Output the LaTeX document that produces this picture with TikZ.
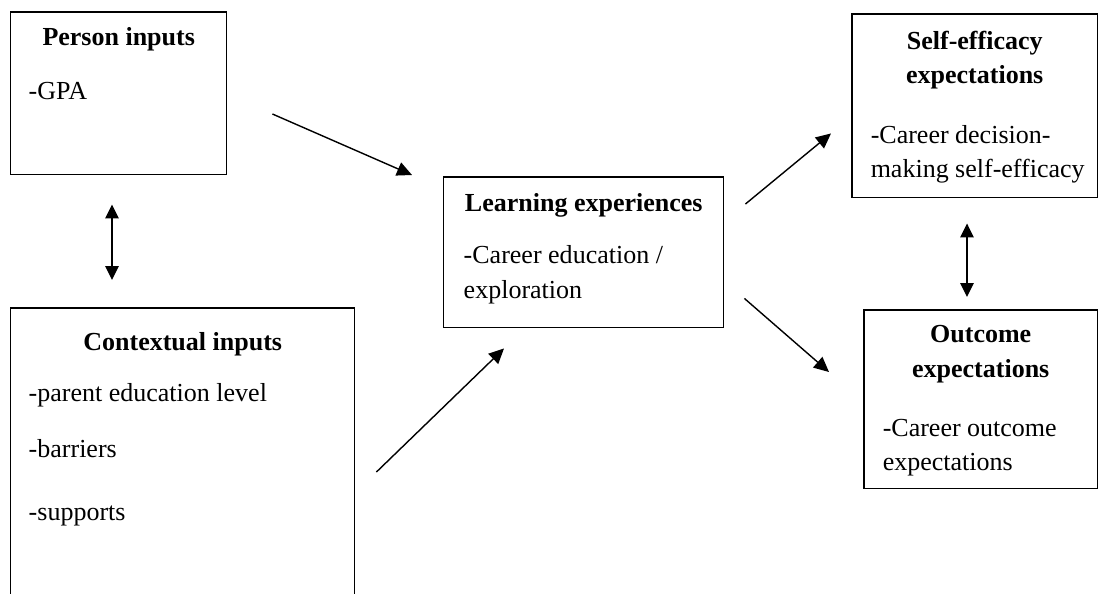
\documentclass[tikz,border=0pt]{standalone}
\usepackage{fontspec}
\setmainfont{Liberation Serif}
\usetikzlibrary{arrows.meta}
\tikzstyle{mybox} = [draw=black, fill=white, line width=0.85pt,
rectangle, inner sep=0pt, anchor=north west]
\tikzstyle{myarrow} = [line width=0.8pt, -{Triangle[length=0.3cm,width=0.28cm]}]
\tikzstyle{mydarrow} = [line width=0.8pt,
{Triangle[length=0.28cm,width=0.27cm]}-{Triangle[length=0.28cm,width=0.27cm]}]

\begin{document}
\begin{tikzpicture}[x=0.02cm, y=-0.02cm, font={\fontsize{14.8}{19.6}\selectfont}]
		\useasboundingbox (0,0) rectangle (1099,593);
		\clip (0,0) rectangle (1099,593);

		% inputs
		\node [mybox] (person) at (10,11) {%
			\begin{minipage}[c][3.26cm][t]{4.32cm}
			\vspace*{0.32cm}
			{\centering\bfseries Person inputs\par}
			\vspace{11pt}
			\raggedright\leftskip=0.36cm
			-GPA
			\end{minipage}};
		\node [mybox] (context) at (10,307) {%
			\begin{minipage}[c][6cm][t]{6.88cm}
			\vspace*{0.5cm}
			{\centering\bfseries Contextual inputs\par}
			\vspace{9pt}
			\raggedright\leftskip=0.36cm
			-parent education level\par
			\vspace{12.8pt}
			-barriers\par
			\vspace{16pt}
			-supports
			\end{minipage}};

		% learning
		\node [mybox] (learn) at (443,176) {%
			\begin{minipage}[c][3.02cm][t]{5.6cm}
			\vspace*{0.34cm}
			{\centering\bfseries Learning experiences\par}
			\vspace{10pt}
			\raggedright\leftskip=0.4cm
			-Career education /\\
			exploration
			\end{minipage}};

		% expectations
		\node [mybox] (selfeff) at (851,13) {%
			\begin{minipage}[c][3.68cm][t]{4.92cm}
			\vspace*{0.34cm}
			{\centering\bfseries Self-efficacy\\ expectations\par}
			\vspace{14.5pt}
			\raggedright\leftskip=0.38cm
			-Career decision-\\
			making self-efficacy
			\end{minipage}};
		\node [mybox] (outcome) at (863,309) {%
			\begin{minipage}[c][3.58cm][t]{4.68cm}
			\vspace*{0.32cm}
			{\centering\bfseries Outcome\\ expectations\par}
			\vspace{14pt}
			\raggedright\leftskip=0.38cm
			-Career outcome\\
			expectations
			\end{minipage}};

		\draw [myarrow] ([shift={(45,103)}]person.north east) -- ([shift={(-31,-1)}]learn.north west);
		\draw [myarrow] ([shift={(21,165)}]context.north east) -- ([shift={(61,20)}]learn.south west);
		\draw [myarrow] ([shift={(21,28)}]learn.north east) -- ([shift={(-20,-65)}]selfeff.south west);
		\draw [myarrow] ([shift={(20,-30)}]learn.south east) -- ([shift={(-34,63)}]outcome.north west);
		\draw [mydarrow] ([shift={(102,29)}]person.south west) -- ([shift={(102,-27)}]context.north west);
		\draw [mydarrow] ([shift={(116,25)}]selfeff.south west) -- ([shift={(104,-12)}]outcome.north west);
		\end{tikzpicture}
\end{document}
